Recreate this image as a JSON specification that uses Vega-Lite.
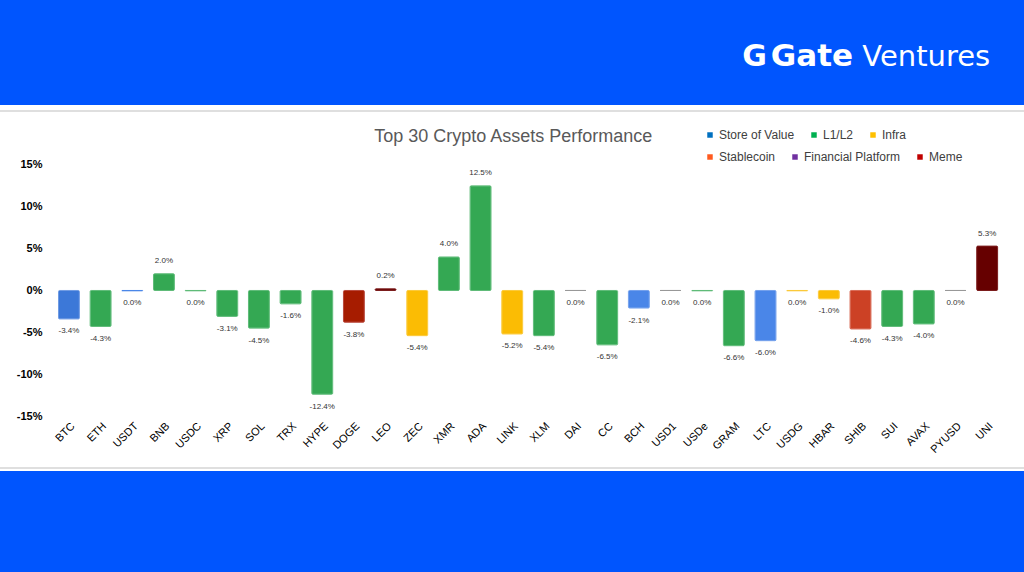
{
  "$schema": "https://vega.github.io/schema/vega-lite/v6.json",
  "width": 1024,
  "height": 366,
  "autosize": {"type": "none"},
  "padding": {"top": 105, "left": 0, "right": 0, "bottom": 101},
  "background": "#0055FE",
  "config": {
    "view": {"fill": "white", "stroke": null},
    "font": "Liberation Sans",
    "locale": {
      "number": {"decimal": ".", "thousands": ",", "grouping": [3], "currency": ["$", ""], "minus": "-"}
    },
    "legend": {
      "orient": "none",
      "direction": "horizontal",
      "title": null,
      "symbolType": "square",
      "symbolSize": 30,
      "symbolOpacity": 1,
      "symbolStrokeWidth": 0,
      "labelFont": "Liberation Sans",
      "labelFontSize": 12,
      "labelColor": "#404040",
      "labelOffset": 3,
      "columnPadding": 13
    }
  },
  "resolve": {"scale": {"color": "independent"}, "legend": {"color": "independent"}},
  "data": {
    "values": [
      {"asset": "BTC", "category": "Store of Value", "pct": -0.034},
      {"asset": "ETH", "category": "L1/L2", "pct": -0.043},
      {"asset": "USDT", "category": "Stablecoin", "pct": -0.0004},
      {"asset": "BNB", "category": "L1/L2", "pct": 0.020},
      {"asset": "USDC", "category": "Stablecoin", "pct": -0.0004},
      {"asset": "XRP", "category": "L1/L2", "pct": -0.031},
      {"asset": "SOL", "category": "L1/L2", "pct": -0.045},
      {"asset": "TRX", "category": "L1/L2", "pct": -0.016},
      {"asset": "HYPE", "category": "L1/L2", "pct": -0.124},
      {"asset": "DOGE", "category": "Meme", "pct": -0.038},
      {"asset": "LEO", "category": "Financial Platform", "pct": 0.002},
      {"asset": "ZEC", "category": "Infra", "pct": -0.054},
      {"asset": "XMR", "category": "L1/L2", "pct": 0.040},
      {"asset": "ADA", "category": "L1/L2", "pct": 0.125},
      {"asset": "LINK", "category": "Infra", "pct": -0.052},
      {"asset": "XLM", "category": "L1/L2", "pct": -0.054},
      {"asset": "DAI", "category": "Stablecoin", "pct": 0},
      {"asset": "CC", "category": "L1/L2", "pct": -0.065},
      {"asset": "BCH", "category": "Store of Value", "pct": -0.021},
      {"asset": "USD1", "category": "Stablecoin", "pct": 0},
      {"asset": "USDe", "category": "Stablecoin", "pct": -0.0004},
      {"asset": "GRAM", "category": "L1/L2", "pct": -0.066},
      {"asset": "LTC", "category": "Store of Value", "pct": -0.060},
      {"asset": "USDG", "category": "Stablecoin", "pct": -0.0004},
      {"asset": "HBAR", "category": "Infra", "pct": -0.010},
      {"asset": "SHIB", "category": "Meme", "pct": -0.046},
      {"asset": "SUI", "category": "L1/L2", "pct": -0.043},
      {"asset": "AVAX", "category": "L1/L2", "pct": -0.040},
      {"asset": "PYUSD", "category": "Stablecoin", "pct": 0},
      {"asset": "UNI", "category": "Financial Platform", "pct": 0.053}
    ]
  },
  "layer": [
    {
      "data": {"values": [{}]},
      "mark": {"type": "rule", "color": "#d4d4d4", "strokeWidth": 1.5},
      "encoding": {"y": {"datum": 0.2145}}
    },
    {
      "data": {"values": [{}]},
      "mark": {"type": "rule", "color": "#d4d4d4", "strokeWidth": 1.5},
      "encoding": {"y": {"datum": -0.2121}}
    },
    {
      "mark": {"type": "bar", "cornerRadius": 1},
      "encoding": {
        "x": {
          "field": "asset",
          "type": "nominal",
          "sort": null,
          "scale": {"range": [58.5, 997.6], "paddingInner": 0.34, "paddingOuter": 0},
          "axis": {
            "orient": "bottom",
            "offset": -53,
            "labelAngle": -45,
            "labelOffset": 0,
            "labelPadding": 2,
            "domain": false,
            "ticks": false,
            "title": null,
            "labelFont": "Liberation Sans",
            "labelFontSize": 11,
            "labelColor": "#000000"
          }
        },
        "y": {
          "field": "pct",
          "type": "quantitative",
          "scale": {"domain": [-0.2157, 0.2216], "nice": false, "zero": false},
          "axis": {
            "values": [-0.15, -0.1, -0.05, 0, 0.05, 0.1, 0.15],
            "format": "%",
            "offset": -45,
            "labelPadding": 3,
            "domain": false,
            "ticks": false,
            "grid": false,
            "title": null,
            "labelFont": "Liberation Sans",
            "labelFontSize": 11,
            "labelFontWeight": "bold",
            "labelColor": "#000000"
          }
        },
        "fill": {
          "field": "asset",
          "type": "nominal",
          "legend": null,
          "scale": {
            "domain": ["BTC", "ETH", "USDT", "BNB", "USDC", "XRP", "SOL", "TRX", "HYPE", "DOGE", "LEO", "ZEC", "XMR", "ADA", "LINK", "XLM", "DAI", "CC", "BCH", "USD1", "USDe", "GRAM", "LTC", "USDG", "HBAR", "SHIB", "SUI", "AVAX", "PYUSD", "UNI"],
            "range": ["#3C78D8", "#34A853", "#4A86E8", "#34A853", "#34A853", "#34A853", "#34A853", "#34A853", "#34A853", "#A61C00", "#660000", "#FBBC04", "#34A853", "#34A853", "#FBBC04", "#34A853", "#999999", "#34A853", "#4A86E8", "#999999", "#34A853", "#34A853", "#4A86E8", "#FBBC04", "#FBBC04", "#CC4125", "#34A853", "#34A853", "#999999", "#660000"]
          }
        },
        "stroke": {
          "field": "asset",
          "type": "nominal",
          "legend": null,
          "scale": {
            "domain": ["BTC", "ETH", "USDT", "BNB", "USDC", "XRP", "SOL", "TRX", "HYPE", "DOGE", "LEO", "ZEC", "XMR", "ADA", "LINK", "XLM", "DAI", "CC", "BCH", "USD1", "USDe", "GRAM", "LTC", "USDG", "HBAR", "SHIB", "SUI", "AVAX", "PYUSD", "UNI"],
            "range": ["#6F9BE3", "#5EBB78", "#4A86E8", "#5EBB78", "#5EBB78", "#5EBB78", "#5EBB78", "#5EBB78", "#5EBB78", "#B8473A", "#7A1A1A", "#FBC93A", "#5EBB78", "#5EBB78", "#FBC93A", "#5EBB78", "#999999", "#5EBB78", "#73A0EC", "#999999", "#5EBB78", "#5EBB78", "#73A0EC", "#FBC93A", "#FBC93A", "#D86A55", "#5EBB78", "#5EBB78", "#999999", "#7A1A1A"]
          }
        },
        "strokeWidth": {"condition": {"test": "datum.pct !== 0", "value": 1}, "value": 0}
      }
    },
    {
      "transform": [{"filter": {"field": "category", "oneOf": ["Store of Value", "L1/L2", "Infra"]}}],
      "mark": {"type": "square", "opacity": 0},
      "encoding": {
        "x": {"field": "asset", "type": "nominal", "sort": null},
        "y": {"field": "pct", "type": "quantitative"},
        "color": {
          "field": "category",
          "type": "nominal",
          "scale": {
            "domain": ["Store of Value", "L1/L2", "Infra"],
            "range": ["#0070C0", "#00B050", "#FFC000"]
          },
          "legend": {"legendX": 704, "legendY": 24}
        }
      }
    },
    {
      "transform": [{"filter": {"field": "category", "oneOf": ["Stablecoin", "Financial Platform", "Meme"]}}],
      "mark": {"type": "square", "opacity": 0},
      "encoding": {
        "x": {"field": "asset", "type": "nominal", "sort": null},
        "y": {"field": "pct", "type": "quantitative"},
        "color": {
          "field": "category",
          "type": "nominal",
          "scale": {
            "domain": ["Stablecoin", "Financial Platform", "Meme"],
            "range": ["#FF5A1F", "#7030A0", "#C00000"]
          },
          "legend": {"legendX": 704, "legendY": 46}
        }
      }
    },
    {
      "transform": [{"filter": "datum.pct > 0"}],
      "mark": {"type": "text", "dy": -12.5, "baseline": "middle", "fontSize": 8, "color": "#333333", "font": "Liberation Sans"},
      "encoding": {
        "x": {"field": "asset", "type": "nominal", "sort": null},
        "y": {"field": "pct", "type": "quantitative"},
        "text": {"field": "pct", "type": "quantitative", "format": ".1%"}
      }
    },
    {
      "transform": [{"filter": "datum.pct <= 0"}],
      "mark": {"type": "text", "dy": 12.5, "baseline": "middle", "fontSize": 8, "color": "#333333", "font": "Liberation Sans"},
      "encoding": {
        "x": {"field": "asset", "type": "nominal", "sort": null},
        "y": {"field": "pct", "type": "quantitative"},
        "text": {"field": "pct", "type": "quantitative", "format": ".1%"}
      }
    },
    {
      "data": {"values": [{}]},
      "mark": {"type": "text", "text": "Top 30 Crypto Assets Performance", "align": "center", "baseline": "middle", "dx": 1, "font": "Liberation Sans", "fontSize": 18, "color": "#595959"},
      "encoding": {"x": {"datum": "LINK"}, "y": {"datum": 0.1834}}
    },
    {
      "data": {"values": [{}]},
      "mark": {"type": "text", "text": "G", "align": "center", "baseline": "middle", "dx": -11, "font": "DejaVu Sans", "fontWeight": "bold", "fontSize": 30, "color": "white"},
      "encoding": {"x": {"datum": "LTC"}, "y": {"datum": 0.279}}
    },
    {
      "data": {"values": [{}]},
      "mark": {"type": "text", "text": "Gate", "align": "right", "baseline": "middle", "dx": -7.5, "font": "DejaVu Sans", "fontWeight": "bold", "fontSize": 31, "color": "white"},
      "encoding": {"x": {"datum": "SHIB"}, "y": {"datum": 0.279}}
    },
    {
      "data": {"values": [{}]},
      "mark": {"type": "text", "text": "Ventures", "align": "right", "baseline": "middle", "dx": 3, "font": "DejaVu Sans", "fontSize": 29, "color": "white"},
      "encoding": {"x": {"datum": "UNI"}, "y": {"datum": 0.279}}
    }
  ]
}
